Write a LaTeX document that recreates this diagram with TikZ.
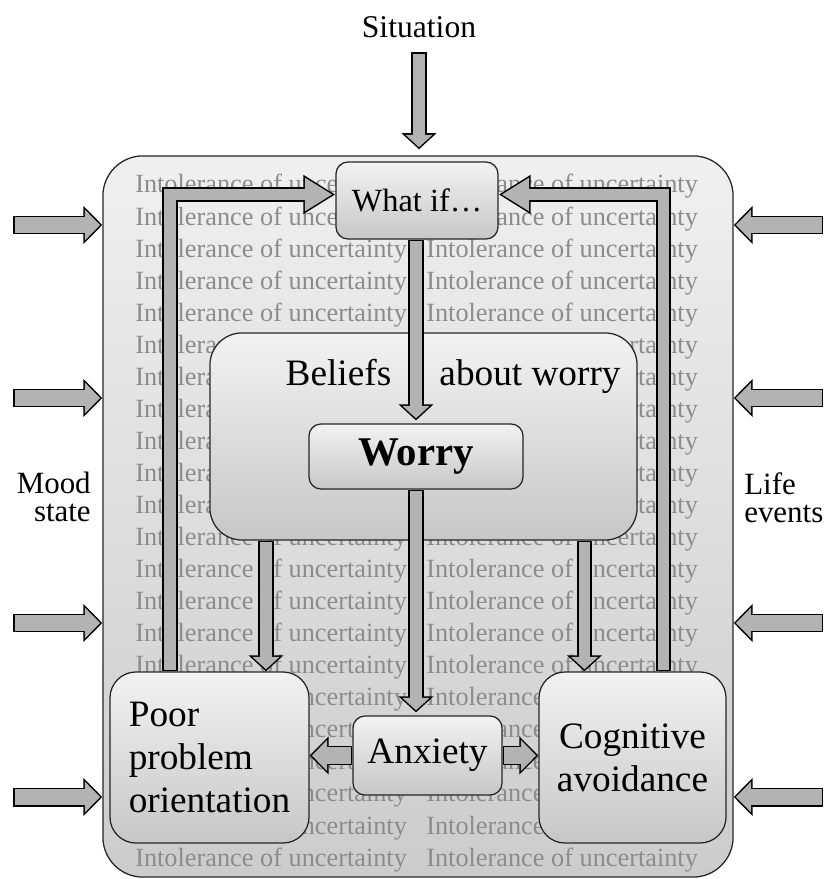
\documentclass[tikz,border=0pt]{standalone}
\usepackage{fontspec}
\setmainfont{Liberation Serif}
\usepackage{tikz}
\usetikzlibrary{arrows.meta, calc}
\definecolor{arrgray}{HTML}{B3B3B3}
\definecolor{iugray}{HTML}{8C8C8C}
\newcommand{\blockarrow}[2]{\draw[#1out] #2; \draw[#1in] #2;}
\tikzset{
    box/.style={draw=black!85, line width=0.9pt, top color=black!5, bottom color=black!22, inner sep=0pt},
    iutext/.style={text=iugray, inner sep=0pt, font=\fontsize{18.7}{22}\selectfont},
    bigtext/.style={font=\fontsize{26.5}{30.6}\selectfont},
    thinout/.style={draw=black, line width=10.7pt, -{Triangle[width=24.2pt,length=11.4pt]}},
    thinin/.style={draw=arrgray, line width=8.5pt, shorten <=1.07pt, shorten >=1.47pt, -{Triangle[width=18.8pt,length=8.8pt]}},
    longout/.style={draw=black, line width=10.7pt, -{Triangle[width=26.3pt,length=22.8pt]}},
    longin/.style={draw=arrgray, line width=8.5pt, shorten <=1.07pt, shorten >=2.1pt, -{Triangle[width=22.6pt,length=19.6pt]}},
    fatout/.style={draw=black, line width=13.5pt, -{Triangle[width=26.3pt,length=13.5pt]}},
    fatin/.style={draw=arrgray, line width=11.4pt, shorten <=1.07pt, shorten >=1.5pt, -{Triangle[width=21.3pt,length=10.9pt]}}
}

\begin{document}
\begin{tikzpicture}[x=0.025cm, y=-0.025cm, line join=miter]
    \useasboundingbox (0,0) rectangle (826,879);
    \node[box, top color=black!6, bottom color=black!20, rounded corners=1cm, minimum width=15.75cm, minimum height=18.025cm] (outer) at (418,516.5) {};
    \foreach \k [evaluate=\k as \yy using 193+32.05*\k] in {0,...,21}{
        \node[iutext, anchor=base west] (iul\k) at (135,\yy) {Intolerance of uncertainty};
        \node[iutext, anchor=base west] (iur\k) at (426,\yy) {Intolerance of uncertainty};
    }
    \node[font=\fontsize{22.5}{27}\selectfont, anchor=south, inner xsep=0pt, inner ysep=0.35cm] (sit) at (419,52) {Situation};
    \node[box, rounded corners=0.3cm, minimum width=4.05cm, minimum height=1.925cm, font=\fontsize{23}{28}\selectfont] (whatif) at (417,200.5) {What if…};
    \node[box, rounded corners=0.8cm, minimum width=10.675cm, minimum height=5.175cm] (beliefs) at (423.5,436.5) {};
    \node[bigtext, anchor=base, inner sep=0pt] (bel1) at (338.5,385) {Beliefs};
    \node[bigtext, anchor=base, inner sep=0pt] (bel2) at (530,385) {about worry};
    \node[box, rounded corners=0.3cm, minimum width=5.35cm, minimum height=1.625cm, font=\fontsize{29}{34}\selectfont\bfseries] (worry) at (416,456.5) {Worry};
    \node[box, bigtext, rounded corners=0.3cm, minimum width=3.725cm, minimum height=1.975cm] (anxiety) at (427.5,755.5) {Anxiety};
    \node[box, bigtext, align=left, rounded corners=0.65cm, minimum width=4.975cm, minimum height=4.275cm] (poor) at (209.5,757.5) {Poor\\problem\\orientation};
    \node[box, bigtext, align=center, rounded corners=0.65cm, minimum width=4.675cm, minimum height=4.275cm] (cog) at (632.5,757.5) {Cognitive\\avoidance};
    \node[font=\fontsize{22}{20}\selectfont, align=right, anchor=east, inner sep=0pt] (mood) at (91,497) {Mood\\state};
    \node[font=\fontsize{22}{20}\selectfont, align=left, anchor=west, inner sep=0pt] (life) at (744,498) {Life\\events};

    \coordinate (pin) at ($(poor.north)+(56.5,0)$);
    \coordinate (cin) at ($(cog.north)+(-48,0)$);
    \coordinate (fbl) at ($(poor.north)+(-39.5,0)$);
    \coordinate (fbltop) at ($(whatif.west)+(0,-6)$);
    \coordinate (fbr) at ($(cog.north)+(31,0)$);
    \coordinate (fbrtop) at ($(whatif.east)+(0,-6)$);
    \blockarrow{thin}{(sit.south) -- ($(outer.north -| sit.south)+(0,-6)$)}
    \blockarrow{thin}{(whatif.south -| worry.north) -- ($(worry.north)+(0,-3)$)}
    \blockarrow{thin}{(worry.south) -- ($(worry.south |- anxiety.north)+(0,-3)$)}
    \blockarrow{thin}{(pin |- beliefs.south) -- (pin)}
    \blockarrow{thin}{(cin |- beliefs.south) -- (cin)}
    \blockarrow{long}{(fbl) |- (fbltop)}
    \blockarrow{long}{(fbr) |- (fbrtop)}
    \blockarrow{fat}{(anxiety.west) -- (anxiety.west -| poor.east)}
    \blockarrow{fat}{(anxiety.east) -- (anxiety.east -| cog.west)}
    \foreach \yy [count=\i] in {225,398,623,797}{
        \coordinate (ml\i) at (13,\yy);
        \coordinate (lr\i) at (823,\yy);
        \blockarrow{fat}{(ml\i) -- (ml\i -| outer.west)}
        \blockarrow{fat}{(lr\i) -- (lr\i -| outer.east)}
    }
\end{tikzpicture}
\end{document}
